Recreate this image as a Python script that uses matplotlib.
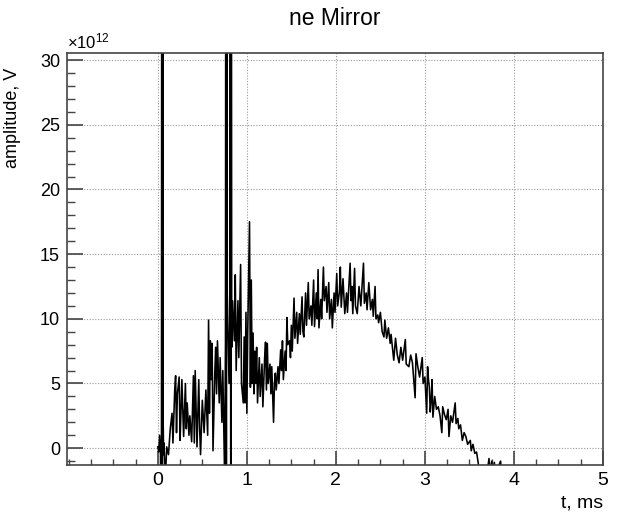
import matplotlib
matplotlib.use("Agg")
import matplotlib.pyplot as plt
from matplotlib.ticker import MultipleLocator

plt.rcParams['font.family'] = ['Liberation Sans', 'DejaVu Sans']
plt.rcParams['mathtext.fontset'] = 'custom'
plt.rcParams['mathtext.rm'] = 'Liberation Sans'

# signal: time in ms, amplitude in units of 1e12 V
t_ms = [0.00, 0.01, 0.02, 0.03, 0.04, 0.045, 0.05, 0.055, 0.06, 0.065,
        0.07, 0.08, 0.09, 0.10, 0.12, 0.14, 0.16, 0.17, 0.19, 0.20,
        0.21, 0.22, 0.24, 0.25, 0.26, 0.27, 0.29, 0.30, 0.31, 0.32,
        0.33, 0.35, 0.36, 0.38, 0.40, 0.41, 0.42, 0.44, 0.46, 0.47,
        0.48, 0.50, 0.52, 0.54, 0.56, 0.57, 0.58, 0.59, 0.60, 0.61,
        0.62, 0.64, 0.65, 0.66, 0.67, 0.69, 0.70, 0.72, 0.73, 0.75,
        0.76, 0.765, 0.77, 0.775, 0.78, 0.80, 0.81, 0.815, 0.82, 0.825,
        0.83, 0.84, 0.86, 0.87, 0.88, 0.90, 0.91, 0.93, 0.94, 0.96,
        0.97, 0.98, 0.99, 1.00, 1.01, 1.03, 1.04, 1.05, 1.06, 1.07,
        1.08, 1.09, 1.10, 1.11, 1.12, 1.14, 1.15, 1.17, 1.18, 1.20,
        1.21, 1.22, 1.23, 1.24, 1.26, 1.27, 1.28, 1.30, 1.31, 1.32,
        1.33, 1.35, 1.36, 1.38, 1.39, 1.40, 1.41, 1.43, 1.44, 1.45,
        1.46, 1.48, 1.49, 1.50, 1.51, 1.53, 1.54, 1.56, 1.57, 1.59,
        1.60, 1.62, 1.63, 1.64, 1.66, 1.67, 1.69, 1.70, 1.72, 1.73,
        1.75, 1.76, 1.78, 1.79, 1.80, 1.81, 1.83, 1.84, 1.86, 1.87,
        1.89, 1.90, 1.92, 1.93, 1.95, 1.96, 1.98, 1.99, 2.01, 2.02,
        2.04, 2.05, 2.06, 2.08, 2.10, 2.12, 2.13, 2.16, 2.17, 2.18,
        2.19, 2.21, 2.22, 2.24, 2.26, 2.28, 2.31, 2.32, 2.34, 2.35,
        2.37, 2.39, 2.41, 2.42, 2.44, 2.45, 2.47, 2.48, 2.50, 2.52,
        2.54, 2.55, 2.57, 2.59, 2.61, 2.62, 2.64, 2.65, 2.67, 2.69,
        2.71, 2.73, 2.75, 2.78, 2.79, 2.82, 2.84, 2.86, 2.89, 2.90,
        2.92, 2.94, 2.97, 2.98, 3.00, 3.02, 3.03, 3.04, 3.05, 3.06,
        3.07, 3.08, 3.09, 3.11, 3.13, 3.15, 3.17, 3.19, 3.20, 3.22,
        3.24, 3.26, 3.27, 3.29, 3.31, 3.34, 3.35, 3.37, 3.38, 3.40,
        3.42, 3.44, 3.46, 3.48, 3.51, 3.52, 3.54, 3.56, 3.58, 3.60,
        3.62, 3.66, 3.70, 3.72, 3.73, 3.75, 3.76, 3.78, 3.79, 3.85,
        3.86]

ne_val = [0.1, -0.3, 1.0, -0.2, -20, 60, -20, 60, 2.2, -0.5,
          0.4, -2, -1.5, 0.1, -0.5, 1.5, 2.7, 0.4, 4.5, 5.6,
          1.2, 4.2, 5.5, 0.6, 2.7, 5.3, 0.9, 3.0, 5.0, 1.5,
          3.5, 1.0, 2.5, 0.5, 5.6, 0.4, 6.0, 0.1, 5.3, 1.5,
          -0.5, 3.7, 1.2, 4.5, 1.0, 9.9, 2.7, 8.3, 5.3, 8.1,
          -0.2, 5.8, 7.8, 4.2, 8.3, 3.5, 7.0, 2.0, 6.0, -2,
          8.0, 60, -20, 60, 12.0, 5.0, 10.4, 60, -20, 60,
          7.8, 11.4, 8.3, 13.4, 6.0, 11.4, 7.0, 14.2, 5.0, 3.5,
          8.6, 3.5, 10.5, 2.7, 9.0, 17.5, 4.7, 13.0, 5.0, 8.9,
          4.2, 7.5, 5.0, 7.8, 3.5, 7.0, 4.0, 6.5, 3.2, 7.0,
          8.2, 4.5, 8.1, 5.0, 6.5, 4.2, 6.3, 2.0, 5.0, 5.8,
          4.5, 6.3, 5.0, 7.6, 6.0, 8.3, 5.3, 7.5, 6.0, 10.1,
          8.0, 8.3, 7.0, 9.5, 7.5, 11.6, 8.5, 10.5, 8.1, 10.4,
          8.8, 11.7, 9.0, 8.6, 12.0, 9.5, 12.8, 10.0, 11.0, 9.5,
          13.0, 9.4, 12.0, 10.0, 13.8, 9.3, 11.5, 10.0, 14.0, 11.4,
          12.5, 10.5, 12.8, 10.0, 11.5, 9.3, 12.0, 10.5, 13.5, 11.0,
          12.1, 14.0, 10.9, 13.1, 10.4, 12.0, 10.5, 14.3, 11.4, 12.5,
          10.4, 13.9, 11.0, 10.4, 12.5, 11.0, 14.3, 11.2, 12.0, 10.7,
          12.8, 10.7, 11.5, 10.2, 12.5, 10.0, 10.3, 9.7, 10.5, 9.0,
          8.6, 9.9, 8.5, 9.3, 8.1, 8.8, 7.5, 6.8, 8.5, 7.2,
          6.6, 7.8, 6.8, 8.4, 6.5, 6.3, 7.2, 6.6, 3.9, 7.3,
          6.3, 5.5, 7.0, 5.0, 5.5, 2.7, 6.3, 5.3, 4.7, 2.8,
          3.7, 5.3, 2.4, 4.0, 3.0, 3.2, 2.5, 1.2, 3.2, 2.6,
          2.2, 3.0, 0.9, 2.5, 2.0, 3.5, 1.9, 2.3, 1.5, 1.8,
          0.6, 1.2, 0.9, 0.3, 0.6, -0.2, 0.3, -0.4, -0.3, -1.2,
          -2, -2, -1.8, -0.8, -2, -1.0, -2, -1.1, -2, -1.0,
          -2]

x_major = [0, 1, 2, 3, 4, 5]
y_major = [0, 5, 10, 15, 20, 25, 30]

fig = plt.figure(figsize=(6.18, 5.17), dpi=100)
ax = fig.add_axes([0.1084, 0.1006, 0.8673, 0.7969])

ax.plot(t_ms, ne_val, color='black', lw=1.15)

ax.set_xlim(-1.02, 5.0)
ax.set_ylim(-1.3, 30.55)
ax.set_xticks(x_major)
ax.set_yticks(y_major)
ax.xaxis.set_minor_locator(MultipleLocator(0.25))
ax.yaxis.set_minor_locator(MultipleLocator(1))

ax.grid(True, which='major', color='#999999', linestyle=(0, (1, 1.5)), lw=0.8)
ax.tick_params(which='both', direction='in', top=False, right=False,
               colors='#444444', labelcolor='black')
ax.tick_params(axis='y', which='major', length=11.5, width=1.2, pad=5, labelsize=13)
ax.tick_params(axis='y', which='minor', length=5.5, width=1.0)
ax.tick_params(axis='x', which='major', length=10, width=1.2, pad=5, labelsize=14)
ax.tick_params(axis='x', which='minor', length=4.5, width=1.0)
for s in ax.spines.values():
    s.set_color('#444444')
    s.set_linewidth(1.2)

ax.text(0.0, 1.003, r'$\mathregular{\times10^{12}}$', transform=ax.transAxes,
        ha='left', va='bottom', fontsize=12)
ax.set_xlabel('t, ms', fontsize=14, loc='right')
ax.set_ylabel('amplitude, V', fontsize=13, loc='top')
ax.yaxis.set_label_coords(-0.085, 0.965)
ax.set_title('ne Mirror', fontsize=16.5, pad=20)

fig.savefig('out.png', dpi=100)
